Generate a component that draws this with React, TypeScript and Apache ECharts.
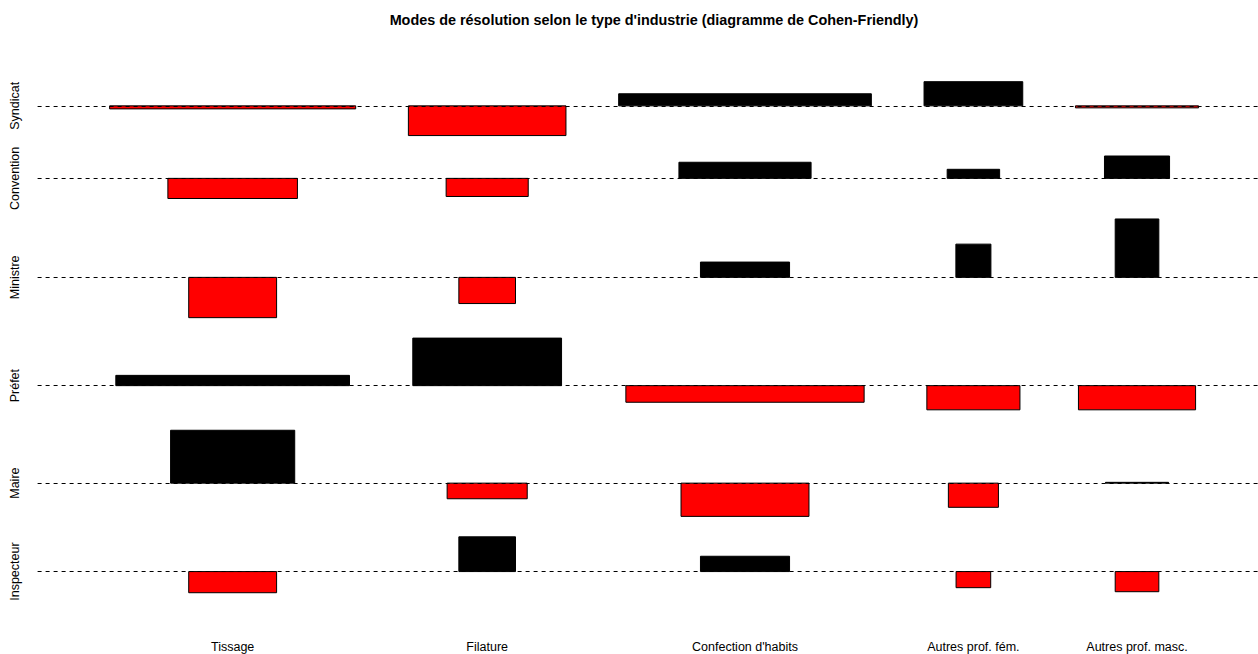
import React, { useEffect, useRef } from 'react';
import * as echarts from 'echarts';

const chartTitle = "Modes de résolution selon le type d'industrie (diagramme de Cohen-Friendly)";
const industries = ['Tissage', 'Filature', "Confection d'habits", 'Autres prof. fém.', 'Autres prof. masc.'];
const modes = ['Syndicat', 'Convention', 'Ministre', 'Préfet', 'Maire', 'Inspecteur'];

// sqrt(expected counts): bar widths; rows = modes, columns = industries
const sqrtExpected = [
  [12.29, 7.87, 12.62, 4.93, 6.15],
  [6.47, 4.10, 6.60, 2.62, 3.25],
  [4.39, 2.83, 4.45, 1.75, 2.18],
  [11.67, 7.43, 11.90, 4.65, 5.85],
  [6.20, 4.00, 6.39, 2.50, 3.15],
  [4.39, 2.83, 4.45, 1.73, 2.18],
];

// Pearson residuals (observed - expected) / sqrt(expected): bar heights
const residuals = [
  [-0.30, -2.95, 1.20, 2.40, -0.20],
  [-2.00, -1.80, 1.60, 0.90, 2.22],
  [-4.00, -2.60, 1.52, 3.30, 5.80],
  [1.02, 4.72, -1.65, -2.40, -2.40],
  [5.25, -1.55, -3.30, -2.40, 0.08],
  [-2.10, 3.45, 1.52, -1.60, -2.00],
];

const FONT = '"Liberation Sans", Arial, Helvetica, sans-serif';
const SPACE = 0.3;

const sum = (a: number[]) => a.reduce((s, v) => s + v, 0);
const mean = (a: number[]) => sum(a) / a.length;

function layout() {
  const nCol = industries.length;
  const nRow = modes.length;
  const colW = industries.map((_, j) => Math.max(...sqrtExpected.map((r) => r[j])));
  const xDelta = mean(colW) * SPACE;
  const xlim = sum(colW) + nCol * xDelta;
  let acc = 0;
  const xm = colW.map((w) => {
    const left = acc;
    acc += w + xDelta;
    return (left + acc) / 2;
  });
  const rowH = residuals.map((r) => Math.max(...r) - Math.min(...r));
  const yDelta = mean(rowH) * SPACE;
  const ylim = sum(rowH) + nRow * yDelta;
  const ym: number[] = new Array(nRow).fill(0);
  acc = 0;
  for (let i = nRow - 1; i >= 0; i--) {
    acc += rowH[i] + yDelta;
    ym[i] = acc - Math.max(0, ...residuals[i]) - yDelta / 2;
  }
  return { xm, ym, xlim, ylim };
}

export default function App() {
  const ref = useRef<HTMLDivElement>(null);
  useEffect(() => {
    if (!ref.current) return;
    const chart = echarts.init(ref.current, undefined, { renderer: 'svg' });
    const { xm, ym, xlim, ylim } = layout();
    const data: number[][] = [];
    residuals.forEach((row, i) =>
      row.forEach((d, j) => data.push([xm[j], ym[i], sqrtExpected[i][j], d]))
    );
    const nearest = (arr: number[], v: number) => {
      let best = 0;
      arr.forEach((a, k) => {
        if (Math.abs(a - v) < Math.abs(arr[best] - v)) best = k;
      });
      return best;
    };
    const option: any = {
      animation: false,
      backgroundColor: '#ffffff',
      graphic: [
        {
          type: 'text',
          x: 654,
          y: 20,
          style: {
            text: chartTitle,
            font: `bold 14.4px ${FONT}`,
            fill: '#000',
            textAlign: 'center',
            textVerticalAlign: 'middle',
          },
        },
      ],
      grid: { left: 37.6, top: 50.2, width: 1233, height: 574, containLabel: false, outerBoundsMode: 'none' },
      xAxis: {
        type: 'value',
        min: -0.04 * xlim,
        max: 1.04 * xlim,
        axisLine: { show: false },
        axisTick: { show: false },
        splitLine: { show: false },
        axisLabel: {
          customValues: xm,
          formatter: (v: number) => industries[nearest(xm, v)],
          color: '#000',
          fontSize: 12.5,
          fontFamily: FONT,
          margin: 16.5,
        },
      },
      yAxis: {
        type: 'value',
        min: -0.04 * ylim,
        max: 1.04 * ylim,
        axisLine: { show: false },
        axisTick: { show: false },
        splitLine: { show: false },
        axisLabel: {
          customValues: ym,
          formatter: (v: number) => modes[nearest(ym, v)],
          rotate: 90,
          color: '#000',
          fontSize: 12.5,
          fontFamily: FONT,
          margin: 16,
        },
      },
      series: [
        {
          type: 'custom',
          silent: true,
          data,
          renderItem: (params: any, api: any) => {
            const xc = api.value(0);
            const yb = api.value(1);
            const w = api.value(2);
            const d = api.value(3);
            const p1 = api.coord([xc - w / 2, yb + Math.max(d, 0)]);
            const p2 = api.coord([xc + w / 2, yb + Math.min(d, 0)]);
            return {
              type: 'rect',
              shape: { x: p1[0], y: p1[1], width: p2[0] - p1[0], height: p2[1] - p1[1] },
              style: { fill: d < 0 ? '#ff0000' : '#000000', stroke: '#000000', lineWidth: 1 },
            };
          },
          markLine: {
            silent: true,
            symbol: ['none', 'none'],
            label: { show: false },
            lineStyle: { type: [4, 4], color: '#000', width: 1, opacity: 1 },
            emphasis: { disabled: true },
            data: ym.map((y) => ({ yAxis: y })),
          },
        },
      ],
    };
    chart.setOption(option);
    return () => chart.dispose();
  }, []);
  return (
    <div
      ref={ref}
      style={{ position: 'fixed', left: 0, top: 0, width: 1258, height: 654, overflow: 'hidden', background: '#fff' }}
    />
  );
}
